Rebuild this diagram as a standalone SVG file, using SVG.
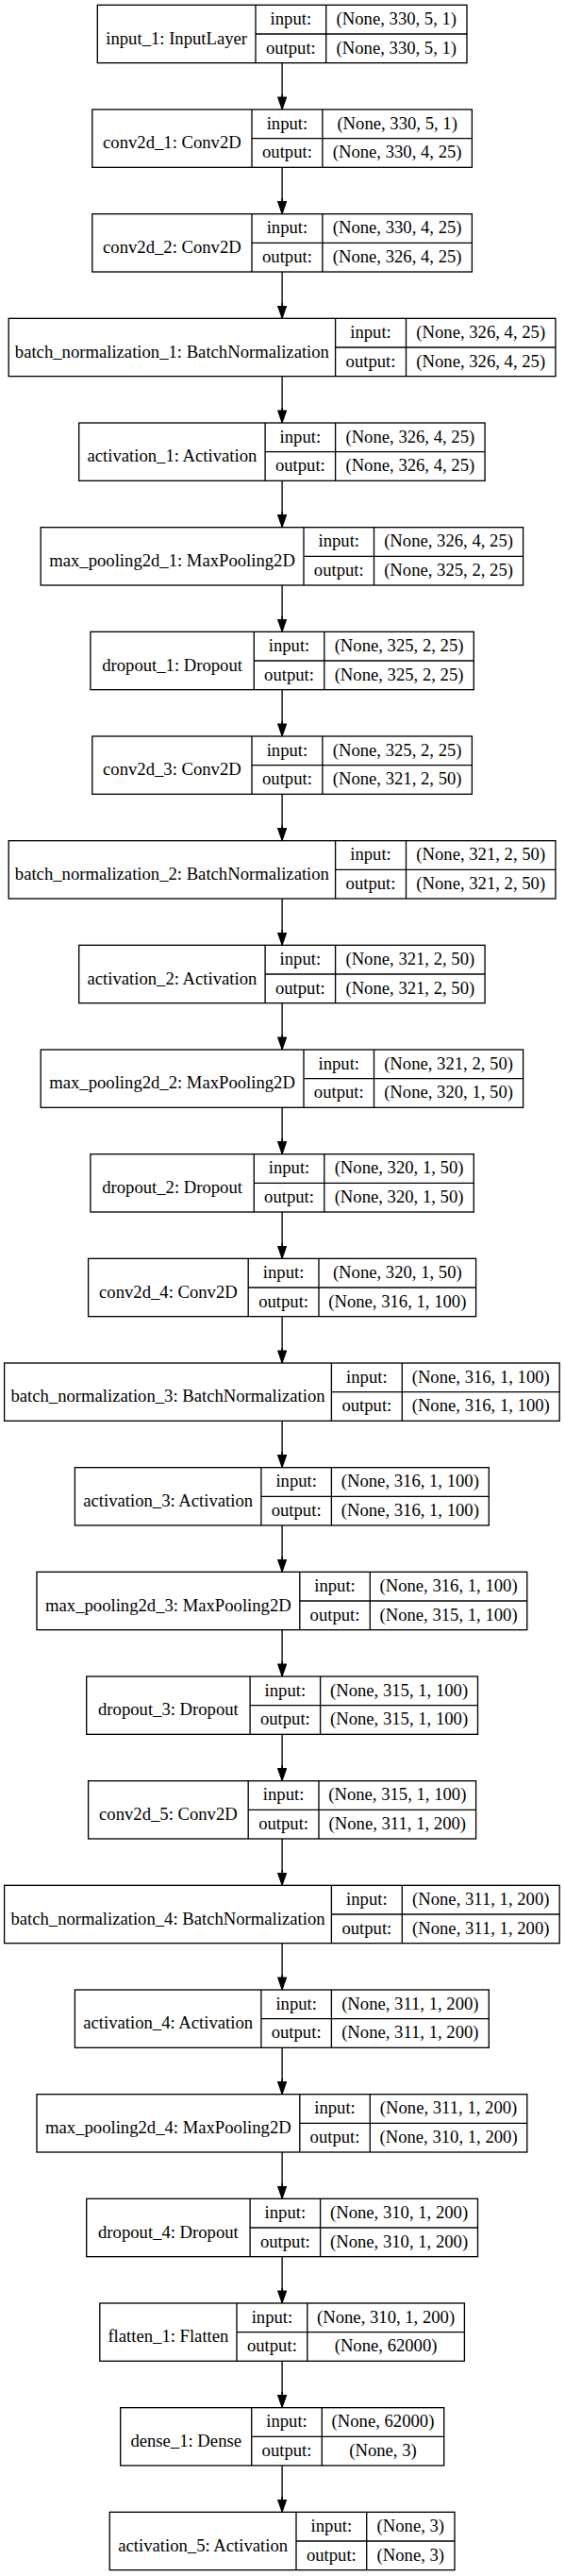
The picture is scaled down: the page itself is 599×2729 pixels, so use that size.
<svg xmlns="http://www.w3.org/2000/svg" width="599" height="2729" viewBox="0 0 599 2729">
<style>
.n rect{fill:#fff;stroke:#000;stroke-width:1.33}
.n line{stroke:#000;stroke-width:1.33}
.n text{font-family:"Liberation Serif","Times New Roman",serif;font-size:18.67px;text-anchor:middle;fill:#000}
.e line{stroke:#000;stroke-width:1.33;fill:none}
</style>
<defs>
<marker id="ah" markerUnits="userSpaceOnUse" viewBox="0 0 14 10" refX="13.6" refY="5" markerWidth="14" markerHeight="10" orient="auto">
<path d="M0.6,0.6 L13.3,5 L0.6,9.4 z" fill="#000" stroke="#000" stroke-width="1.2"/>
</marker>
</defs>
<rect width="599" height="2729" fill="#fff"/>
<g class="e" id="edges">
<line x1="299.1" y1="66.66" x2="299.1" y2="116"/>
<line x1="299.1" y1="177.33" x2="299.1" y2="226.67"/>
<line x1="299.1" y1="288" x2="299.1" y2="337.33"/>
<line x1="299.1" y1="398.66" x2="299.1" y2="448"/>
<line x1="299.1" y1="509.33" x2="299.1" y2="558.67"/>
<line x1="299.1" y1="620" x2="299.1" y2="669.33"/>
<line x1="299.1" y1="730.66" x2="299.1" y2="780"/>
<line x1="299.1" y1="841.33" x2="299.1" y2="890.67"/>
<line x1="299.1" y1="952" x2="299.1" y2="1001.33"/>
<line x1="299.1" y1="1062.66" x2="299.1" y2="1112"/>
<line x1="299.1" y1="1173.33" x2="299.1" y2="1222.67"/>
<line x1="299.1" y1="1284" x2="299.1" y2="1333.33"/>
<line x1="299.1" y1="1394.66" x2="299.1" y2="1444"/>
<line x1="299.1" y1="1505.33" x2="299.1" y2="1554.67"/>
<line x1="299.1" y1="1616" x2="299.1" y2="1665.33"/>
<line x1="299.1" y1="1726.66" x2="299.1" y2="1776"/>
<line x1="299.1" y1="1837.33" x2="299.1" y2="1886.67"/>
<line x1="299.1" y1="1948" x2="299.1" y2="1997.33"/>
<line x1="299.1" y1="2058.66" x2="299.1" y2="2108"/>
<line x1="299.1" y1="2169.33" x2="299.1" y2="2218.67"/>
<line x1="299.1" y1="2280" x2="299.1" y2="2329.33"/>
<line x1="299.1" y1="2390.66" x2="299.1" y2="2440"/>
<line x1="299.1" y1="2501.33" x2="299.1" y2="2550.67"/>
<line x1="299.1" y1="2612" x2="299.1" y2="2661.33"/>
</g>
<g id="edge-heads" class="e">
<line x1="299.1" y1="100" x2="299.1" y2="116" marker-end="url(#ah)"/>
<line x1="299.1" y1="210" x2="299.1" y2="226.67" marker-end="url(#ah)"/>
<line x1="299.1" y1="321" x2="299.1" y2="337.33" marker-end="url(#ah)"/>
<line x1="299.1" y1="432" x2="299.1" y2="448" marker-end="url(#ah)"/>
<line x1="299.1" y1="542" x2="299.1" y2="558.67" marker-end="url(#ah)"/>
<line x1="299.1" y1="653" x2="299.1" y2="669.33" marker-end="url(#ah)"/>
<line x1="299.1" y1="764" x2="299.1" y2="780" marker-end="url(#ah)"/>
<line x1="299.1" y1="874" x2="299.1" y2="890.67" marker-end="url(#ah)"/>
<line x1="299.1" y1="985" x2="299.1" y2="1001.33" marker-end="url(#ah)"/>
<line x1="299.1" y1="1096" x2="299.1" y2="1112" marker-end="url(#ah)"/>
<line x1="299.1" y1="1206" x2="299.1" y2="1222.67" marker-end="url(#ah)"/>
<line x1="299.1" y1="1317" x2="299.1" y2="1333.33" marker-end="url(#ah)"/>
<line x1="299.1" y1="1428" x2="299.1" y2="1444" marker-end="url(#ah)"/>
<line x1="299.1" y1="1538" x2="299.1" y2="1554.67" marker-end="url(#ah)"/>
<line x1="299.1" y1="1649" x2="299.1" y2="1665.33" marker-end="url(#ah)"/>
<line x1="299.1" y1="1760" x2="299.1" y2="1776" marker-end="url(#ah)"/>
<line x1="299.1" y1="1870" x2="299.1" y2="1886.67" marker-end="url(#ah)"/>
<line x1="299.1" y1="1981" x2="299.1" y2="1997.33" marker-end="url(#ah)"/>
<line x1="299.1" y1="2092" x2="299.1" y2="2108" marker-end="url(#ah)"/>
<line x1="299.1" y1="2202" x2="299.1" y2="2218.67" marker-end="url(#ah)"/>
<line x1="299.1" y1="2313" x2="299.1" y2="2329.33" marker-end="url(#ah)"/>
<line x1="299.1" y1="2424" x2="299.1" y2="2440" marker-end="url(#ah)"/>
<line x1="299.1" y1="2534" x2="299.1" y2="2550.67" marker-end="url(#ah)"/>
<line x1="299.1" y1="2645" x2="299.1" y2="2661.33" marker-end="url(#ah)"/>
</g>

<g class="n" id="input_1" transform="translate(0,5.33)">
<rect x="103.3" y="0" width="391.7" height="61.33"/>
<line x1="271" y1="0" x2="271" y2="61.33"/><line x1="345.7" y1="0" x2="345.7" y2="61.33"/><line x1="271" y1="30.67" x2="495" y2="30.67"/>
<text x="187.15" y="41.4">input_1: InputLayer</text>
<text x="308.35" y="20.7">input:</text><text x="308.35" y="51.4">output:</text>
<text x="420.35" y="20.7">(None, 330, 5, 1)</text><text x="420.35" y="51.4">(None, 330, 5, 1)</text>
</g>

<g class="n" id="conv2d_1" transform="translate(0,116)">
<rect x="97.8" y="0" width="402.6" height="61.33"/>
<line x1="267" y1="0" x2="267" y2="61.33"/><line x1="341.9" y1="0" x2="341.9" y2="61.33"/><line x1="267" y1="30.67" x2="500.4" y2="30.67"/>
<text x="182.4" y="41.4">conv2d_1: Conv2D</text>
<text x="304.45" y="20.7">input:</text><text x="304.45" y="51.4">output:</text>
<text x="421.15" y="20.7">(None, 330, 5, 1)</text><text x="421.15" y="51.4">(None, 330, 4, 25)</text>
</g>

<g class="n" id="conv2d_2" transform="translate(0,226.67)">
<rect x="97.8" y="0" width="402.6" height="61.33"/>
<line x1="267" y1="0" x2="267" y2="61.33"/><line x1="341.9" y1="0" x2="341.9" y2="61.33"/><line x1="267" y1="30.67" x2="500.4" y2="30.67"/>
<text x="182.4" y="41.4">conv2d_2: Conv2D</text>
<text x="304.45" y="20.7">input:</text><text x="304.45" y="51.4">output:</text>
<text x="421.15" y="20.7">(None, 330, 4, 25)</text><text x="421.15" y="51.4">(None, 326, 4, 25)</text>
</g>

<g class="n" id="batch_normalization_1" transform="translate(0,337.33)">
<rect x="9.2" y="0" width="579.8" height="61.33"/>
<line x1="355.6" y1="0" x2="355.6" y2="61.33"/><line x1="430.5" y1="0" x2="430.5" y2="61.33"/><line x1="355.6" y1="30.67" x2="589" y2="30.67"/>
<text x="182.4" y="41.4">batch_normalization_1: BatchNormalization</text>
<text x="393.05" y="20.7">input:</text><text x="393.05" y="51.4">output:</text>
<text x="509.75" y="20.7">(None, 326, 4, 25)</text><text x="509.75" y="51.4">(None, 326, 4, 25)</text>
</g>

<g class="n" id="activation_1" transform="translate(0,448)">
<rect x="83.7" y="0" width="430.4" height="61.33"/>
<line x1="281.1" y1="0" x2="281.1" y2="61.33"/><line x1="355.6" y1="0" x2="355.6" y2="61.33"/><line x1="281.1" y1="30.67" x2="514.1" y2="30.67"/>
<text x="182.4" y="41.4">activation_1: Activation</text>
<text x="318.35" y="20.7">input:</text><text x="318.35" y="51.4">output:</text>
<text x="434.85" y="20.7">(None, 326, 4, 25)</text><text x="434.85" y="51.4">(None, 326, 4, 25)</text>
</g>

<g class="n" id="max_pooling2d_1" transform="translate(0,558.67)">
<rect x="43.2" y="0" width="511.4" height="61.33"/>
<line x1="322" y1="0" x2="322" y2="61.33"/><line x1="396.5" y1="0" x2="396.5" y2="61.33"/><line x1="322" y1="30.67" x2="554.6" y2="30.67"/>
<text x="182.6" y="41.4">max_pooling2d_1: MaxPooling2D</text>
<text x="359.25" y="20.7">input:</text><text x="359.25" y="51.4">output:</text>
<text x="475.55" y="20.7">(None, 326, 4, 25)</text><text x="475.55" y="51.4">(None, 325, 2, 25)</text>
</g>

<g class="n" id="dropout_1" transform="translate(0,669.33)">
<rect x="95.9" y="0" width="406.4" height="61.33"/>
<line x1="269.3" y1="0" x2="269.3" y2="61.33"/><line x1="343.8" y1="0" x2="343.8" y2="61.33"/><line x1="269.3" y1="30.67" x2="502.3" y2="30.67"/>
<text x="182.6" y="41.4">dropout_1: Dropout</text>
<text x="306.55" y="20.7">input:</text><text x="306.55" y="51.4">output:</text>
<text x="423.05" y="20.7">(None, 325, 2, 25)</text><text x="423.05" y="51.4">(None, 325, 2, 25)</text>
</g>

<g class="n" id="conv2d_3" transform="translate(0,780)">
<rect x="97.8" y="0" width="402.6" height="61.33"/>
<line x1="267" y1="0" x2="267" y2="61.33"/><line x1="341.9" y1="0" x2="341.9" y2="61.33"/><line x1="267" y1="30.67" x2="500.4" y2="30.67"/>
<text x="182.4" y="41.4">conv2d_3: Conv2D</text>
<text x="304.45" y="20.7">input:</text><text x="304.45" y="51.4">output:</text>
<text x="421.15" y="20.7">(None, 325, 2, 25)</text><text x="421.15" y="51.4">(None, 321, 2, 50)</text>
</g>

<g class="n" id="batch_normalization_2" transform="translate(0,890.67)">
<rect x="9.2" y="0" width="579.8" height="61.33"/>
<line x1="355.6" y1="0" x2="355.6" y2="61.33"/><line x1="430.5" y1="0" x2="430.5" y2="61.33"/><line x1="355.6" y1="30.67" x2="589" y2="30.67"/>
<text x="182.4" y="41.4">batch_normalization_2: BatchNormalization</text>
<text x="393.05" y="20.7">input:</text><text x="393.05" y="51.4">output:</text>
<text x="509.75" y="20.7">(None, 321, 2, 50)</text><text x="509.75" y="51.4">(None, 321, 2, 50)</text>
</g>

<g class="n" id="activation_2" transform="translate(0,1001.33)">
<rect x="83.7" y="0" width="430.4" height="61.33"/>
<line x1="281.1" y1="0" x2="281.1" y2="61.33"/><line x1="355.6" y1="0" x2="355.6" y2="61.33"/><line x1="281.1" y1="30.67" x2="514.1" y2="30.67"/>
<text x="182.4" y="41.4">activation_2: Activation</text>
<text x="318.35" y="20.7">input:</text><text x="318.35" y="51.4">output:</text>
<text x="434.85" y="20.7">(None, 321, 2, 50)</text><text x="434.85" y="51.4">(None, 321, 2, 50)</text>
</g>

<g class="n" id="max_pooling2d_2" transform="translate(0,1112)">
<rect x="43.2" y="0" width="511.4" height="61.33"/>
<line x1="322" y1="0" x2="322" y2="61.33"/><line x1="396.5" y1="0" x2="396.5" y2="61.33"/><line x1="322" y1="30.67" x2="554.6" y2="30.67"/>
<text x="182.6" y="41.4">max_pooling2d_2: MaxPooling2D</text>
<text x="359.25" y="20.7">input:</text><text x="359.25" y="51.4">output:</text>
<text x="475.55" y="20.7">(None, 321, 2, 50)</text><text x="475.55" y="51.4">(None, 320, 1, 50)</text>
</g>

<g class="n" id="dropout_2" transform="translate(0,1222.67)">
<rect x="95.9" y="0" width="406.4" height="61.33"/>
<line x1="269.3" y1="0" x2="269.3" y2="61.33"/><line x1="343.8" y1="0" x2="343.8" y2="61.33"/><line x1="269.3" y1="30.67" x2="502.3" y2="30.67"/>
<text x="182.6" y="41.4">dropout_2: Dropout</text>
<text x="306.55" y="20.7">input:</text><text x="306.55" y="51.4">output:</text>
<text x="423.05" y="20.7">(None, 320, 1, 50)</text><text x="423.05" y="51.4">(None, 320, 1, 50)</text>
</g>

<g class="n" id="conv2d_4" transform="translate(0,1333.33)">
<rect x="93.6" y="0" width="411" height="61.33"/>
<line x1="263.2" y1="0" x2="263.2" y2="61.33"/><line x1="338" y1="0" x2="338" y2="61.33"/><line x1="263.2" y1="30.67" x2="504.6" y2="30.67"/>
<text x="178.4" y="41.4">conv2d_4: Conv2D</text>
<text x="300.6" y="20.7">input:</text><text x="300.6" y="51.4">output:</text>
<text x="421.3" y="20.7">(None, 320, 1, 50)</text><text x="421.3" y="51.4">(None, 316, 1, 100)</text>
</g>

<g class="n" id="batch_normalization_3" transform="translate(0,1444)">
<rect x="4.6" y="0" width="588.6" height="61.33"/>
<line x1="351.4" y1="0" x2="351.4" y2="61.33"/><line x1="426.3" y1="0" x2="426.3" y2="61.33"/><line x1="351.4" y1="30.67" x2="593.2" y2="30.67"/>
<text x="178" y="41.4">batch_normalization_3: BatchNormalization</text>
<text x="388.85" y="20.7">input:</text><text x="388.85" y="51.4">output:</text>
<text x="509.75" y="20.7">(None, 316, 1, 100)</text><text x="509.75" y="51.4">(None, 316, 1, 100)</text>
</g>

<g class="n" id="activation_3" transform="translate(0,1554.67)">
<rect x="79.4" y="0" width="438.9" height="61.33"/>
<line x1="276.9" y1="0" x2="276.9" y2="61.33"/><line x1="351.4" y1="0" x2="351.4" y2="61.33"/><line x1="276.9" y1="30.67" x2="518.3" y2="30.67"/>
<text x="178.15" y="41.4">activation_3: Activation</text>
<text x="314.15" y="20.7">input:</text><text x="314.15" y="51.4">output:</text>
<text x="434.85" y="20.7">(None, 316, 1, 100)</text><text x="434.85" y="51.4">(None, 316, 1, 100)</text>
</g>

<g class="n" id="max_pooling2d_3" transform="translate(0,1665.33)">
<rect x="39" y="0" width="519.8" height="61.33"/>
<line x1="317.8" y1="0" x2="317.8" y2="61.33"/><line x1="392.3" y1="0" x2="392.3" y2="61.33"/><line x1="317.8" y1="30.67" x2="558.8" y2="30.67"/>
<text x="178.4" y="41.4">max_pooling2d_3: MaxPooling2D</text>
<text x="355.05" y="20.7">input:</text><text x="355.05" y="51.4">output:</text>
<text x="475.55" y="20.7">(None, 316, 1, 100)</text><text x="475.55" y="51.4">(None, 315, 1, 100)</text>
</g>

<g class="n" id="dropout_3" transform="translate(0,1776)">
<rect x="91.7" y="0" width="414.8" height="61.33"/>
<line x1="265.1" y1="0" x2="265.1" y2="61.33"/><line x1="339.6" y1="0" x2="339.6" y2="61.33"/><line x1="265.1" y1="30.67" x2="506.5" y2="30.67"/>
<text x="178.4" y="41.4">dropout_3: Dropout</text>
<text x="302.35" y="20.7">input:</text><text x="302.35" y="51.4">output:</text>
<text x="423.05" y="20.7">(None, 315, 1, 100)</text><text x="423.05" y="51.4">(None, 315, 1, 100)</text>
</g>

<g class="n" id="conv2d_5" transform="translate(0,1886.67)">
<rect x="93.6" y="0" width="411" height="61.33"/>
<line x1="263.2" y1="0" x2="263.2" y2="61.33"/><line x1="338" y1="0" x2="338" y2="61.33"/><line x1="263.2" y1="30.67" x2="504.6" y2="30.67"/>
<text x="178.4" y="41.4">conv2d_5: Conv2D</text>
<text x="300.6" y="20.7">input:</text><text x="300.6" y="51.4">output:</text>
<text x="421.3" y="20.7">(None, 315, 1, 100)</text><text x="421.3" y="51.4">(None, 311, 1, 200)</text>
</g>

<g class="n" id="batch_normalization_4" transform="translate(0,1997.33)">
<rect x="4.6" y="0" width="588.6" height="61.33"/>
<line x1="351.4" y1="0" x2="351.4" y2="61.33"/><line x1="426.3" y1="0" x2="426.3" y2="61.33"/><line x1="351.4" y1="30.67" x2="593.2" y2="30.67"/>
<text x="178" y="41.4">batch_normalization_4: BatchNormalization</text>
<text x="388.85" y="20.7">input:</text><text x="388.85" y="51.4">output:</text>
<text x="509.75" y="20.7">(None, 311, 1, 200)</text><text x="509.75" y="51.4">(None, 311, 1, 200)</text>
</g>

<g class="n" id="activation_4" transform="translate(0,2108)">
<rect x="79.4" y="0" width="438.9" height="61.33"/>
<line x1="276.9" y1="0" x2="276.9" y2="61.33"/><line x1="351.4" y1="0" x2="351.4" y2="61.33"/><line x1="276.9" y1="30.67" x2="518.3" y2="30.67"/>
<text x="178.15" y="41.4">activation_4: Activation</text>
<text x="314.15" y="20.7">input:</text><text x="314.15" y="51.4">output:</text>
<text x="434.85" y="20.7">(None, 311, 1, 200)</text><text x="434.85" y="51.4">(None, 311, 1, 200)</text>
</g>

<g class="n" id="max_pooling2d_4" transform="translate(0,2218.67)">
<rect x="39" y="0" width="519.8" height="61.33"/>
<line x1="317.8" y1="0" x2="317.8" y2="61.33"/><line x1="392.3" y1="0" x2="392.3" y2="61.33"/><line x1="317.8" y1="30.67" x2="558.8" y2="30.67"/>
<text x="178.4" y="41.4">max_pooling2d_4: MaxPooling2D</text>
<text x="355.05" y="20.7">input:</text><text x="355.05" y="51.4">output:</text>
<text x="475.55" y="20.7">(None, 311, 1, 200)</text><text x="475.55" y="51.4">(None, 310, 1, 200)</text>
</g>

<g class="n" id="dropout_4" transform="translate(0,2329.33)">
<rect x="91.7" y="0" width="414.8" height="61.33"/>
<line x1="265.1" y1="0" x2="265.1" y2="61.33"/><line x1="339.6" y1="0" x2="339.6" y2="61.33"/><line x1="265.1" y1="30.67" x2="506.5" y2="30.67"/>
<text x="178.4" y="41.4">dropout_4: Dropout</text>
<text x="302.35" y="20.7">input:</text><text x="302.35" y="51.4">output:</text>
<text x="423.05" y="20.7">(None, 310, 1, 200)</text><text x="423.05" y="51.4">(None, 310, 1, 200)</text>
</g>

<g class="n" id="flatten_1" transform="translate(0,2440)">
<rect x="105.8" y="0" width="386.6" height="61.33"/>
<line x1="251" y1="0" x2="251" y2="61.33"/><line x1="325.8" y1="0" x2="325.8" y2="61.33"/><line x1="251" y1="30.67" x2="492.4" y2="30.67"/>
<text x="178.4" y="41.4">flatten_1: Flatten</text>
<text x="288.4" y="20.7">input:</text><text x="288.4" y="51.4">output:</text>
<text x="409.1" y="20.7">(None, 310, 1, 200)</text><text x="409.1" y="51.4">(None, 62000)</text>
</g>

<g class="n" id="dense_1" transform="translate(0,2550.67)">
<rect x="127.7" y="0" width="343" height="61.33"/>
<line x1="266.7" y1="0" x2="266.7" y2="61.33"/><line x1="341.3" y1="0" x2="341.3" y2="61.33"/><line x1="266.7" y1="30.67" x2="470.7" y2="30.67"/>
<text x="197.2" y="41.4">dense_1: Dense</text>
<text x="304" y="20.7">input:</text><text x="304" y="51.4">output:</text>
<text x="406" y="20.7">(None, 62000)</text><text x="406" y="51.4">(None, 3)</text>
</g>

<g class="n" id="activation_5" transform="translate(0,2661.33)">
<rect x="116.3" y="0" width="365.7" height="61.33"/>
<line x1="314" y1="0" x2="314" y2="61.33"/><line x1="388.7" y1="0" x2="388.7" y2="61.33"/><line x1="314" y1="30.67" x2="482" y2="30.67"/>
<text x="215.15" y="41.4">activation_5: Activation</text>
<text x="351.35" y="20.7">input:</text><text x="351.35" y="51.4">output:</text>
<text x="435.35" y="20.7">(None, 3)</text><text x="435.35" y="51.4">(None, 3)</text>
</g>
</svg>
